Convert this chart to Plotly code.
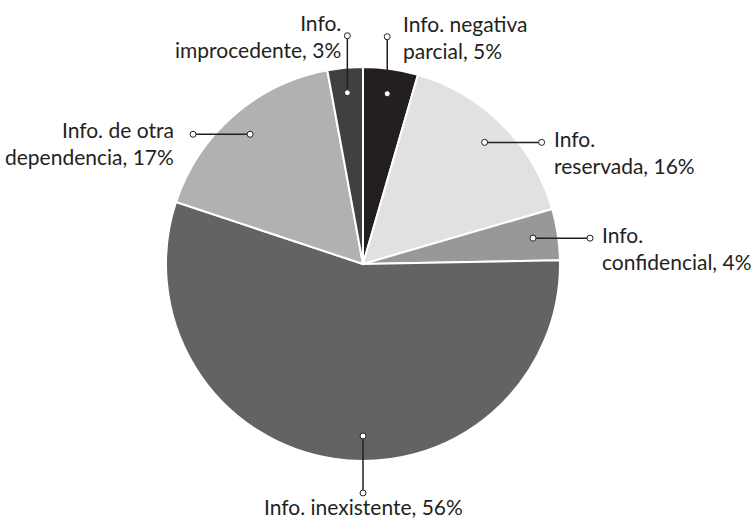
import math

import plotly.graph_objects as go

# slice data, clockwise from 12 o'clock
categories = [
    "Info. negativa parcial",
    "Info. reservada",
    "Info. confidencial",
    "Info. inexistente",
    "Info. de otra dependencia",
    "Info. improcedente",
]
values = [4.5, 16.0, 4.2, 55.4, 17.0, 2.9]
label_texts = [
    "Info. negativa<br>parcial, 5%",
    "Info.<br>reservada, 16%",
    "Info.<br>confidencial, 4%",
    "Info. inexistente, 56%",
    "Info. de otra<br>dependencia, 17%",
    "Info.<br>improcedente, 3%",
]

# --- style ---
COLORS = ["#231f20", "#e1e1e2", "#98989a", "#636365", "#b1b1b3", "#404042"]
LEADER_DIR = ["up", "right", "right", "down", "left", "up"]
TEXT_COLOR = "#231f20"
LINE_COLOR = "#231f20"
FONT = "Lato"
FONT_SIZE = 21

W, H = 752, 519
CX, CY, R = 363, 264, 197
DOT_R = 0.873 * R
LEADER_LEN = 57
DOT = 3


def circle(x, y):
    return dict(type="circle", xref="x", yref="y", layer="above",
                x0=x - DOT, x1=x + DOT, y0=y - DOT, y1=y + DOT,
                fillcolor="white", line=dict(color=LINE_COLOR, width=1))


fig = go.Figure()

fig.add_trace(go.Pie(
    labels=categories,
    values=values,
    sort=False,
    direction="clockwise",
    rotation=0,
    textinfo="none",
    hoverinfo="label+percent",
    marker=dict(colors=COLORS, line=dict(color="white", width=2)),
    domain=dict(x=[(CX - R) / W, (CX + R) / W], y=[1 - (CY + R) / H, 1 - (CY - R) / H]),
    showlegend=False,
))

# invisible trace so the pixel-scaled axes exist
fig.add_trace(go.Scatter(x=[0, W], y=[0, H], mode="none", hoverinfo="skip", showlegend=False))

total = sum(values)
cum = 0
annotations = []
shapes = []
for val, text, d in zip(values, label_texts, LEADER_DIR):
    mid = (cum + val / 2) / total * 2 * math.pi
    cum += val
    if d == "down":
        # the big slice gets its label straight below the centre
        mid = math.pi
    x0 = CX + DOT_R * math.sin(mid)
    y0 = CY - DOT_R * math.cos(mid)
    if d == "up":
        x1, y1 = x0, y0 - LEADER_LEN
    elif d == "down":
        x1, y1 = x0, y0 + LEADER_LEN
    elif d == "right":
        x1, y1 = x0 + LEADER_LEN, y0
    else:
        x1, y1 = x0 - LEADER_LEN, y0

    shapes.append(dict(type="line", xref="x", yref="y", layer="above",
                       x0=x0, y0=y0, x1=x1, y1=y1,
                       line=dict(color=LINE_COLOR, width=1.5)))
    shapes.append(circle(x0, y0))
    shapes.append(circle(x1, y1))

    if d == "up":
        # text beside the top of the line, away from the centre
        if x1 >= CX:
            ann = dict(x=x1 + 14, y=y1, xanchor="left", yanchor="middle", align="left")
        else:
            ann = dict(x=x1 - 4, y=y1, xanchor="right", yanchor="middle", align="right")
    elif d == "down":
        ann = dict(x=x1, y=y1 - 1, xanchor="center", yanchor="top", align="center")
    elif d == "right":
        ann = dict(x=x1 + 10, y=y1 - 18, xanchor="left", yanchor="top", align="left")
    else:
        ann = dict(x=x1 - 17, y=y1 - 19, xanchor="right", yanchor="top", align="right")
    ann.update(text=text, showarrow=False, xref="x", yref="y",
               font=dict(family=FONT, size=FONT_SIZE, color=TEXT_COLOR))
    annotations.append(ann)

fig.update_layout(
    width=W,
    height=H,
    margin=dict(l=0, r=0, t=0, b=0),
    paper_bgcolor="white",
    plot_bgcolor="rgba(0,0,0,0)",
    xaxis=dict(range=[0, W], visible=False, fixedrange=True),
    yaxis=dict(range=[H, 0], visible=False, fixedrange=True),
    annotations=annotations,
    shapes=shapes,
)

# drop the browser's default body margin so the figure sits at the page corner
fig.write_html(
    "out.html",
    config={"displayModeBar": False},
    post_script="document.body.style.margin='0';document.body.style.overflow='hidden';",
)
